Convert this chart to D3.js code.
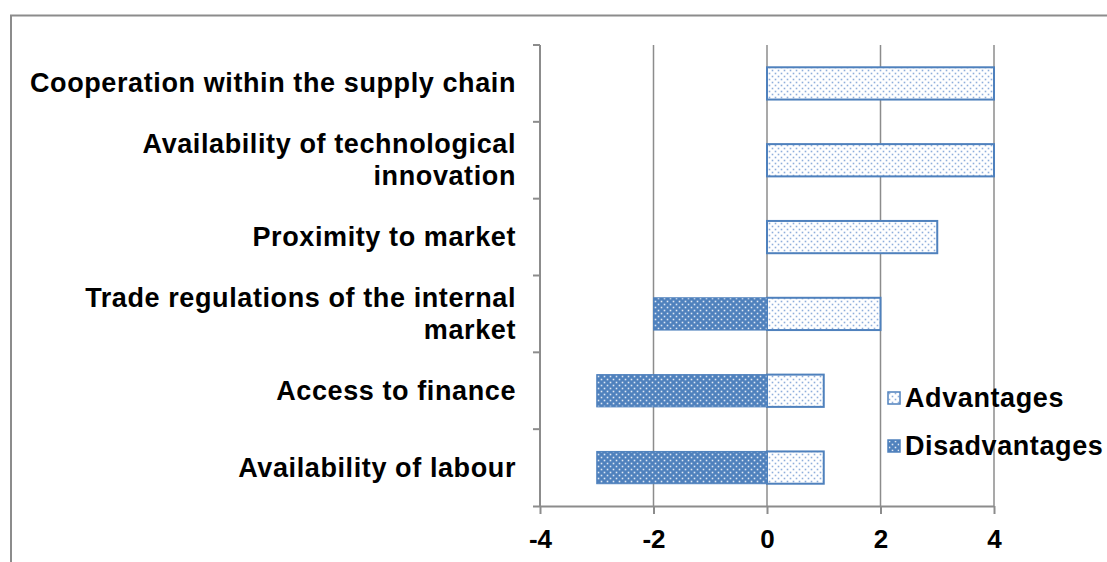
<!DOCTYPE html>
<html>
<head>
<meta charset="utf-8">
<script src="https://cdn.jsdelivr.net/npm/d3@7"></script>
<style>
  body { margin: 0; background: #fff; }
  text { font-family: "Liberation Sans", Arial, sans-serif; font-weight: bold; fill: #000; }
</style>
</head>
<body>
<div id="chart"></div>
<script>
// Data, top to bottom as it reads in the chart.
const categories = [
  ["Cooperation within the supply chain"],
  ["Availability of technological", "innovation"],
  ["Proximity to market"],
  ["Trade regulations of the internal", "market"],
  ["Access to finance"],
  ["Availability of labour"]
];
const advantages = [4, 4, 3, 2, 1, 1];
const disadvantages = [0, 0, 0, -2, -3, -3];
const xTicks = [-4, -2, 0, 2, 4];
const seriesNames = ["Advantages", "Disadvantages"];

const width = 1107, height = 562;
const blue = "#4f81bd";

const svg = d3.select("#chart").append("svg")
  .attr("width", width)
  .attr("height", height);

// Patterns for the two series (dotted fills).
const defs = svg.append("defs");
const pAdv = defs.append("pattern").attr("id", "pAdv")
  .attr("patternUnits", "userSpaceOnUse").attr("width", 6).attr("height", 6);
pAdv.append("rect").attr("width", 6).attr("height", 6).attr("fill", "#fff");
[[1.5, 1.5], [4.5, 4.5]].forEach(p =>
  pAdv.append("rect").attr("x", p[0] - 0.8).attr("y", p[1] - 0.8)
    .attr("width", 1.6).attr("height", 1.6).attr("fill", "#8eaedb"));

const pDis = defs.append("pattern").attr("id", "pDis")
  .attr("patternUnits", "userSpaceOnUse").attr("width", 6).attr("height", 6);
pDis.append("rect").attr("width", 6).attr("height", 6).attr("fill", blue);
[[1.5, 1.5], [4.5, 4.5]].forEach(p =>
  pDis.append("rect").attr("x", p[0] - 0.8).attr("y", p[1] - 0.8)
    .attr("width", 1.6).attr("height", 1.6).attr("fill", "#dfe8f4"));

// Outer frame (runs off the right and bottom edges).
svg.append("path")
  .attr("d", `M11,${height + 5} V15.5 H${width + 5}`)
  .attr("fill", "none").attr("stroke", "#8c8c8c").attr("stroke-width", 2);

// Scales
const x = d3.scaleLinear().domain([-4, 4]).range([540, 994]);
const y = d3.scaleBand().domain(d3.range(categories.length)).range([45, 506])
  .paddingInner(0.58).paddingOuter(0.29);
const bandAll = d3.scaleBand().domain(d3.range(categories.length)).range([45, 506]);

// Vertical gridlines
svg.append("g").selectAll("line")
  .data(xTicks.filter(t => t !== -4))
  .join("line")
  .attr("x1", d => x(d)).attr("x2", d => x(d))
  .attr("y1", 45).attr("y2", 506)
  .attr("stroke", "#8c8c8c").attr("stroke-width", 1.5);

// Bars
const bars = svg.append("g");
bars.selectAll("rect.adv")
  .data(advantages)
  .join("rect")
  .attr("class", "adv")
  .attr("x", d => x(0))
  .attr("y", (d, i) => y(i))
  .attr("width", d => x(d) - x(0))
  .attr("height", y.bandwidth())
  .attr("fill", "url(#pAdv)")
  .attr("stroke", blue).attr("stroke-width", 2);

bars.selectAll("rect.dis")
  .data(disadvantages.map((v, i) => ({ v, i })).filter(d => d.v !== 0))
  .join("rect")
  .attr("class", "dis")
  .attr("x", d => x(d.v))
  .attr("y", d => y(d.i))
  .attr("width", d => x(0) - x(d.v))
  .attr("height", y.bandwidth())
  .attr("fill", "url(#pDis)")
  .attr("stroke", blue).attr("stroke-width", 1);

// X axis
const xAxis = svg.append("g")
  .attr("transform", "translate(0,506)")
  .call(d3.axisBottom(x).tickValues(xTicks).tickSize(8).tickPadding(0).tickFormat(d => String(d)));
xAxis.select(".domain").attr("d", `M533,0.5H994`).attr("stroke", "#8c8c8c").attr("stroke-width", 2);
xAxis.selectAll(".tick line").attr("stroke", "#8c8c8c").attr("stroke-width", 2);
xAxis.selectAll(".tick text")
  .attr("font-size", 26).attr("font-family", null).attr("fill", "#000")
  .attr("dy", null).attr("y", 42);

// Y axis line and category ticks
const yAxis = svg.append("g");
yAxis.append("line")
  .attr("x1", 540).attr("x2", 540).attr("y1", 45).attr("y2", 506)
  .attr("stroke", "#8c8c8c").attr("stroke-width", 2);
yAxis.selectAll("line.tick")
  .data(d3.range(categories.length))
  .join("line")
  .attr("class", "tick")
  .attr("x1", 533).attr("x2", 540)
  .attr("y1", d => bandAll(d)).attr("y2", d => bandAll(d))
  .attr("stroke", "#8c8c8c").attr("stroke-width", 2);

// Category labels
const lineH = 32;
svg.append("g").selectAll("text")
  .data(categories)
  .join("text")
  .attr("text-anchor", "end")
  .attr("font-size", 27)
  .attr("letter-spacing", 0.6)
  .attr("y", (d, i) => bandAll(i) + bandAll.bandwidth() / 2 - (d.length - 1) * lineH / 2 + 9)
  .each(function(d) {
    d3.select(this).selectAll("tspan")
      .data(d)
      .join("tspan")
      .attr("x", 516)
      .attr("dy", (t, j) => j === 0 ? 0 : lineH)
      .text(t => t);
  });

// Legend
const legend = svg.append("g").selectAll("g")
  .data(seriesNames)
  .join("g")
  .attr("transform", (d, i) => `translate(888,${398 + i * 48})`);
legend.append("rect")
  .attr("x", 0).attr("y", -6).attr("width", 12).attr("height", 12)
  .attr("fill", (d, i) => i === 0 ? "url(#pAdv)" : "url(#pDis)")
  .attr("stroke", blue).attr("stroke-width", 1.5);
legend.append("text")
  .attr("x", 17).attr("y", 9)
  .attr("font-size", 27)
  .attr("letter-spacing", 0.6)
  .text(d => d);
</script>
</body>
</html>
